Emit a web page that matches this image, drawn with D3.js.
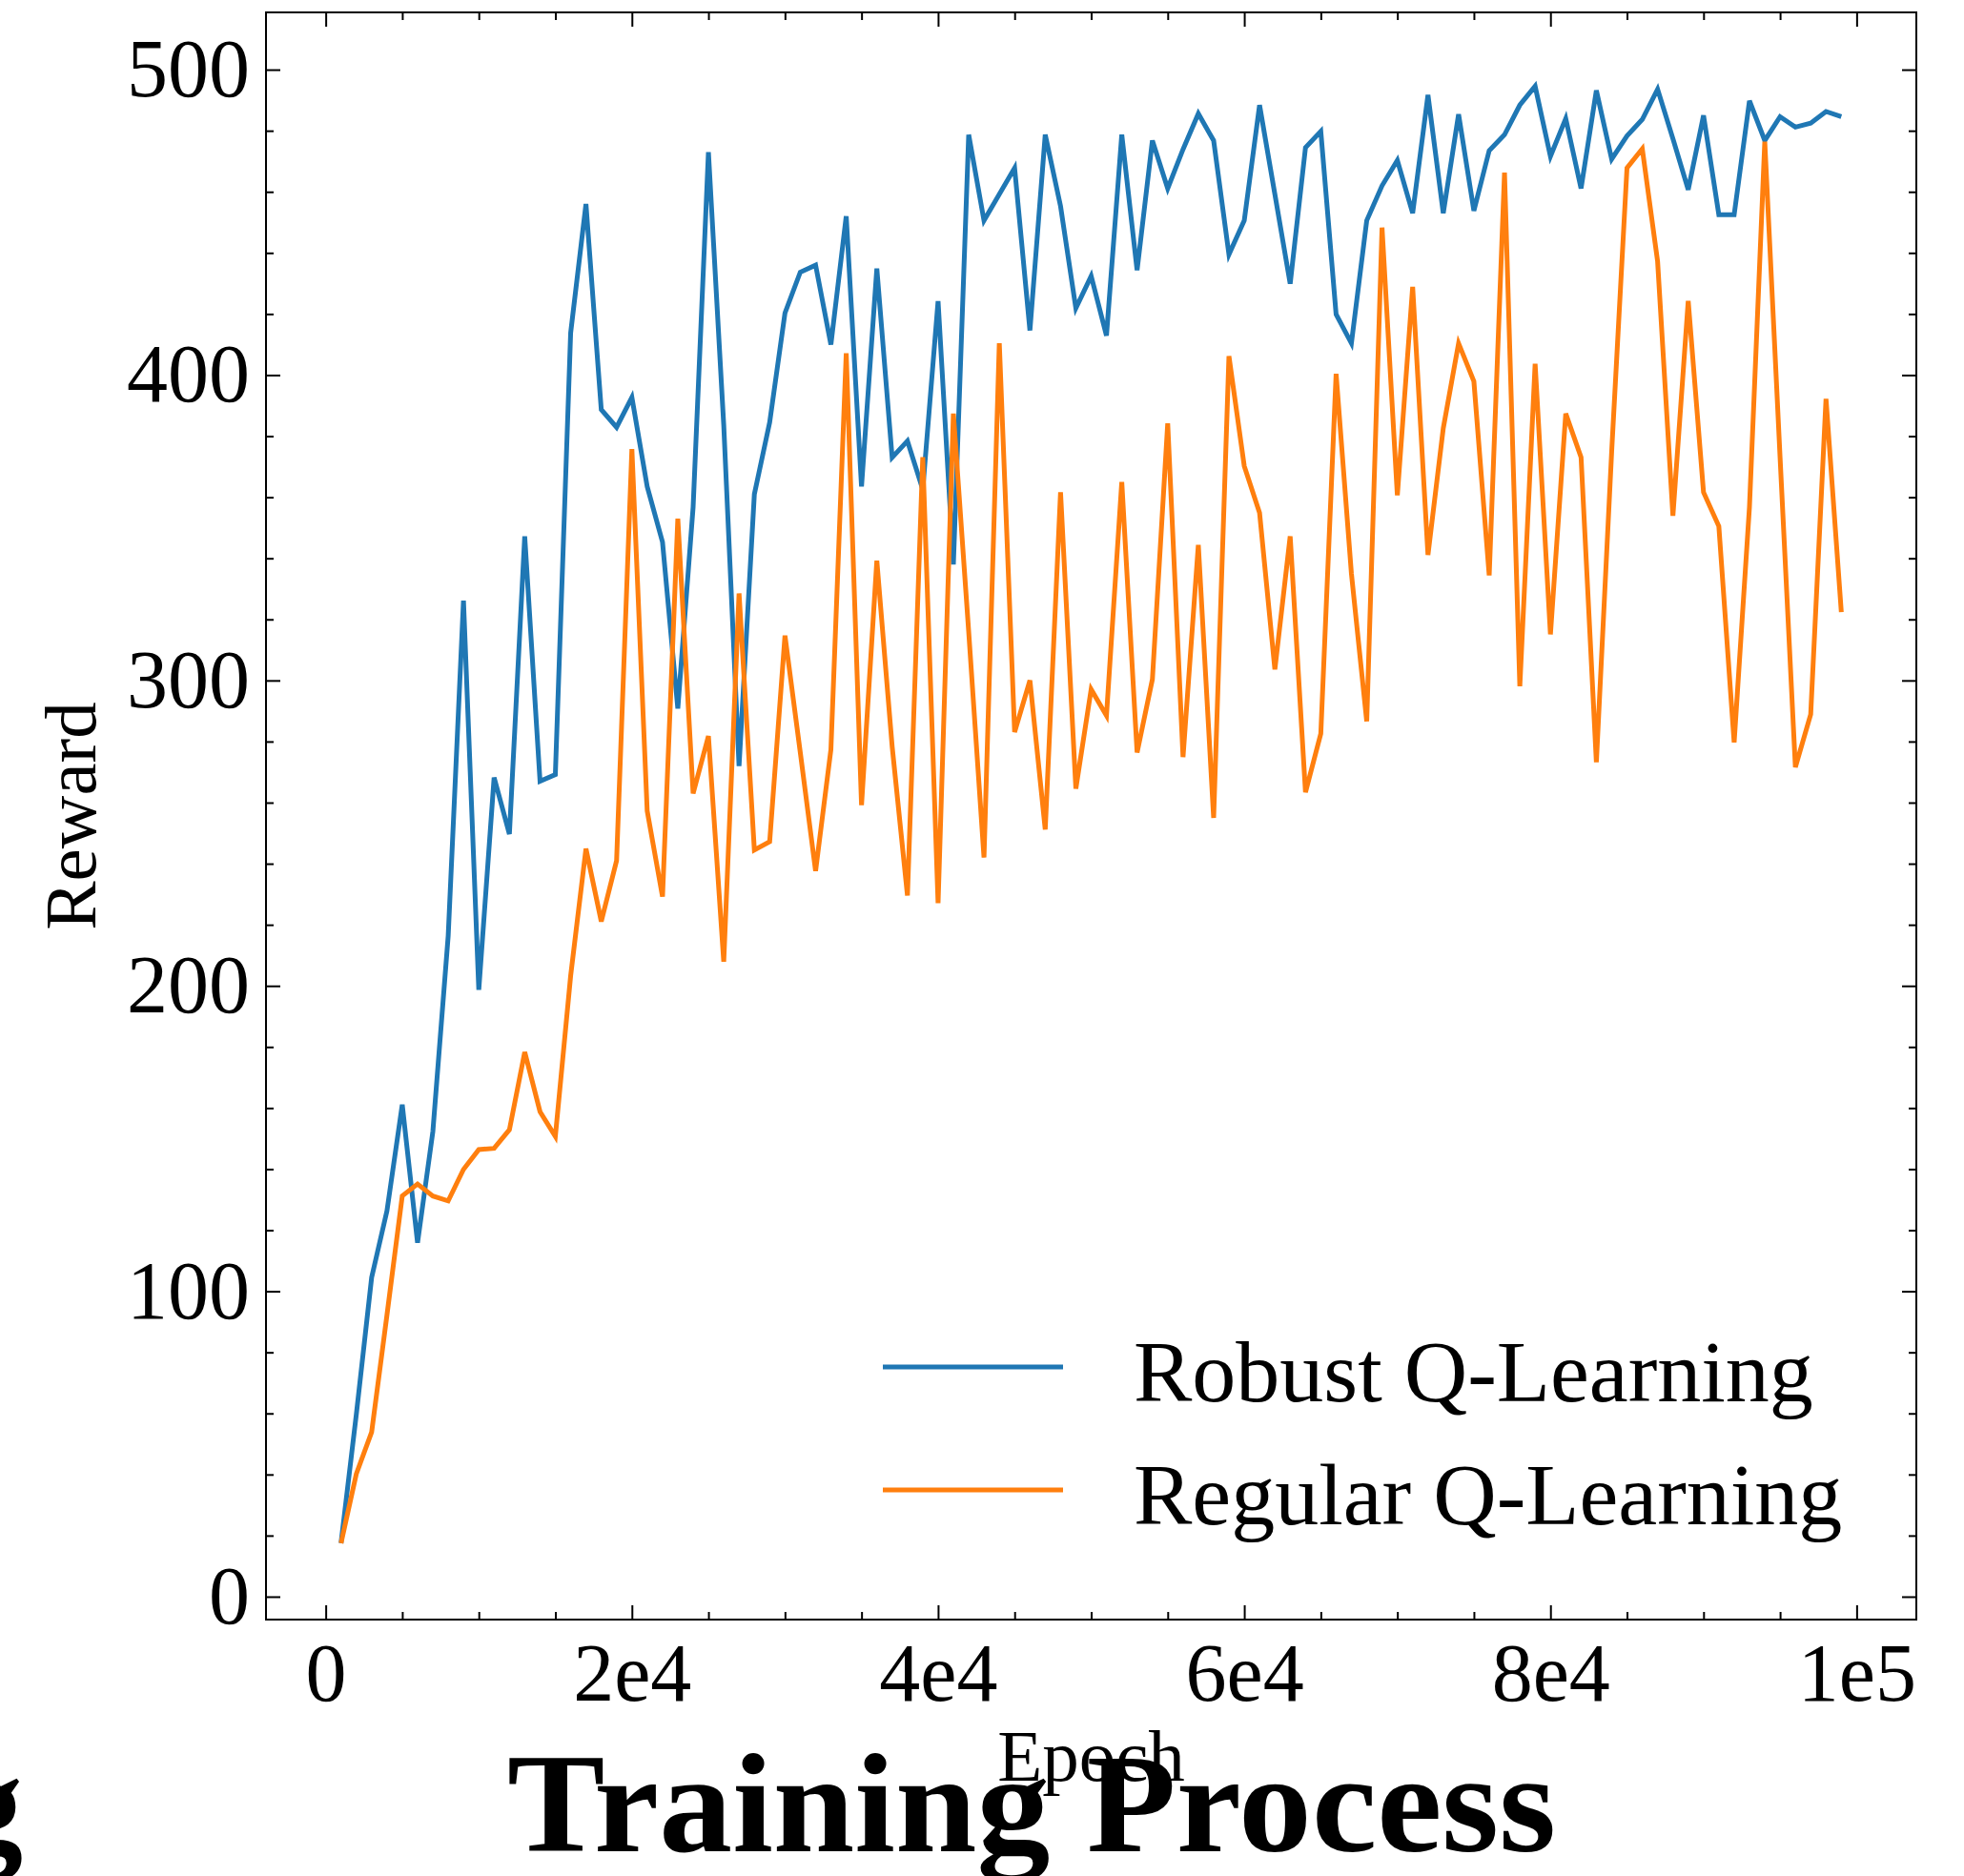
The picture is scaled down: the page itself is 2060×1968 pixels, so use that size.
<!DOCTYPE html>
<html>
<head>
<meta charset="utf-8">
<script src="https://cdn.jsdelivr.net/npm/d3@7"></script>
<style>
  body { margin: 0; background: #fff; }
  svg { display: block; }
</style>
</head>
<body>
<script>
// epochs (x), one point every 1e3
const epochs = d3.range(1000, 100000, 1000);

const robust = [
  17.5, 59.7, 104.5, 126.3, 161.1, 115.9, 152.3, 216.3, 326.1, 198.7,
  268.2, 249.7, 347.2, 267, 269.2, 413.8, 456, 388.7, 382.9, 392.7,
  363.5, 345.3, 290.8, 356.8, 473, 383.6, 272, 361, 384.5, 420.3,
  433.7, 436, 410, 452, 363.5, 434.9, 373, 378.4, 362.5, 424.2,
  338, 478.7, 450.6, 459.2, 467.8, 414.6, 478.7, 455.3, 421.9, 432.4,
  412.9, 478.7, 434.3, 476.8, 461.1, 473.9, 485.6, 476.8, 439.5, 450.6,
  488.4, 459.2, 429.9, 474.5, 479.8, 419.9, 410.4, 450.6, 462, 470.3,
  453, 491.7, 453, 485.4, 453.8, 473.5, 478.7, 488.4, 494.6, 471.6,
  484, 461.1, 493.2, 470.7, 478.3, 483.7, 493.6, 477.4, 460.7, 485,
  452.5, 452.5, 489.8, 476.8, 484.6, 481.2, 482.5, 486.3, 484.6
];

const regular = [
  17.5, 40.2, 53.9, 92.2, 131.2, 135.1, 131.2, 129.6, 139.9, 146.4,
  146.8, 152.9, 178.3, 158.8, 150.7, 203.3, 244.9, 221.1, 241, 375.8,
  257.3, 229.2, 353, 263, 281.8, 207.9, 328.5, 244.5, 247.2, 314.7,
  276.4, 237.6, 277.4, 407.1, 259.2, 339.2, 278.4, 229.6, 373.1, 227.1,
  387.4, 316, 242, 410.4, 283.1, 300, 251.2, 361.6, 264.6, 297.1,
  288.5, 365, 276.4, 300.4, 384.2, 274.9, 344.4, 255, 406.2, 370.2,
  354.9, 303.6, 347.2, 263.4, 282.6, 400.4, 335, 286.6, 448.3, 360.6,
  428.9, 341.1, 382.6, 410.4, 397.9, 334.4, 466.3, 298.1, 403.7, 315.1,
  387.4, 373.1, 273.2, 375, 467.8, 474.1, 437.2, 353.9, 424.3, 361.6,
  350.5, 279.7, 356.8, 476.4, 373, 271.6, 288.9, 392.2, 322.4
];

const seriesNames = ['Robust Q-Learning', 'Regular Q-Learning'];
const seriesColors = ['#1f77b4', '#ff7f0e'];

const xMajor = [0, 20000, 40000, 60000, 80000, 100000];
const xMajorLabels = ['0', '2e4', '4e4', '6e4', '8e4', '1e5'];
const xMinor = [5000, 10000, 15000, 25000, 30000, 35000, 45000, 50000, 55000,
  65000, 70000, 75000, 85000, 90000, 95000];
const yMajor = [0, 100, 200, 300, 400, 500];
const yMinor = [20, 40, 60, 80, 120, 140, 160, 180, 220, 240, 260, 280,
  320, 340, 360, 380, 420, 440, 460, 480];

function draw() {
  const W = 2060, H = 1968;
  // 图形边距
  const margin = {top: 13, right: 50, bottom: 269, left: 279};
  const font = '"Liberation Serif", "DejaVu Serif", serif';

  const x = d3.scaleLinear()
    .domain([-3900, 103900])
    .range([margin.left, W - margin.right]);

  const y = d3.scaleLinear()
    .domain([-7.5, 518.75])
    .range([H - margin.bottom, margin.top]);

  const svg = d3.select('body')
    .append('svg')
    .attr('width', W)
    .attr('height', H)
    .style('font-family', font);

  svg.append('rect')
    .attr('width', W).attr('height', H).attr('fill', 'white');

  const x0 = x.range()[0], x1 = x.range()[1];
  const y0 = y.range()[0], y1 = y.range()[1];

  const styleAxis = g => {
    g.attr('font-family', font);
    g.select('.domain').remove();
    g.selectAll('line').attr('stroke', 'black').attr('stroke-width', 2);
    g.selectAll('text').attr('fill', 'black').style('font-family', font);
  };

  // bottom axis with labels
  svg.append('g')
    .attr('transform', `translate(0,${y0})`)
    .call(d3.axisBottom(x)
      .tickValues(xMajor)
      .tickFormat((d, i) => xMajorLabels[i])
      .tickSize(-15)
      .tickPadding(24))
    .call(styleAxis)
    .call(g => g.selectAll('text').style('font-size', '86px'));

  svg.append('g')
    .attr('transform', `translate(0,${y0})`)
    .call(d3.axisBottom(x).tickValues(xMinor).tickFormat('').tickSize(-8))
    .call(styleAxis);

  // top axis (ticks only)
  svg.append('g')
    .attr('transform', `translate(0,${y1})`)
    .call(d3.axisTop(x).tickValues(xMajor).tickFormat('').tickSize(-15))
    .call(styleAxis);
  svg.append('g')
    .attr('transform', `translate(0,${y1})`)
    .call(d3.axisTop(x).tickValues(xMinor).tickFormat('').tickSize(-8))
    .call(styleAxis);

  // left axis with labels
  svg.append('g')
    .attr('transform', `translate(${x0},0)`)
    .call(d3.axisLeft(y)
      .tickValues(yMajor)
      .tickSize(-15)
      .tickPadding(17))
    .call(styleAxis)
    .call(g => g.selectAll('text').style('font-size', '86px'));
  svg.append('g')
    .attr('transform', `translate(${x0},0)`)
    .call(d3.axisLeft(y).tickValues(yMinor).tickFormat('').tickSize(-8))
    .call(styleAxis);

  // right axis (ticks only)
  svg.append('g')
    .attr('transform', `translate(${x1},0)`)
    .call(d3.axisRight(y).tickValues(yMajor).tickFormat('').tickSize(-15))
    .call(styleAxis);
  svg.append('g')
    .attr('transform', `translate(${x1},0)`)
    .call(d3.axisRight(y).tickValues(yMinor).tickFormat('').tickSize(-8))
    .call(styleAxis);

  // frame
  svg.append('rect')
    .attr('x', x0).attr('y', y1)
    .attr('width', x1 - x0).attr('height', y0 - y1)
    .attr('fill', 'none')
    .attr('stroke', 'black')
    .attr('stroke-width', 2);

  // lines
  const line = d3.line()
    .x((d, i) => x(epochs[i]))
    .y(d => y(d));

  [robust, regular].forEach((values, k) => {
    svg.append('path')
      .datum(values)
      .attr('d', line)
      .attr('fill', 'none')
      .attr('stroke', seriesColors[k])
      .attr('stroke-width', 5)
      .attr('stroke-linejoin', 'miter');
  });

  // legend
  const legend = svg.append('g').attr('transform', 'translate(926,1434)');
  seriesNames.forEach((name, k) => {
    const row = legend.append('g').attr('transform', `translate(0,${k * 129})`);
    row.append('line')
      .attr('x1', 0).attr('x2', 189)
      .attr('stroke', seriesColors[k])
      .attr('stroke-width', 5);
    row.append('text')
      .attr('x', 263)
      .attr('y', 36)
      .style('font-size', '92px')
      .text(name);
  });

  // axis labels
  svg.append('text')
    .attr('transform', `translate(100,${(y0 + y1) / 2}) rotate(-90)`)
    .attr('text-anchor', 'middle')
    .style('font-size', '77px')
    .text('Reward');

  svg.append('text')
    .attr('x', (x0 + x1) / 2)
    .attr('y', 1868)
    .attr('text-anchor', 'middle')
    .style('font-size', '77px')
    .text('Epoch');

  // title (drawn on top of the x label, left word cut by the edge)
  svg.append('text')
    .attr('x', 24)
    .attr('y', 1942)
    .attr('text-anchor', 'end')
    .style('font-size', '148px')
    .style('font-weight', 'bold')
    .text('Q-Learning');

  svg.append('text')
    .attr('x', 532)
    .attr('y', 1942)
    .attr('textLength', 1100)
    .attr('lengthAdjust', 'spacingAndGlyphs')
    .style('font-size', '148px')
    .style('font-weight', 'bold')
    .text('Training Process');
}

draw();
</script>
</body>
</html>
